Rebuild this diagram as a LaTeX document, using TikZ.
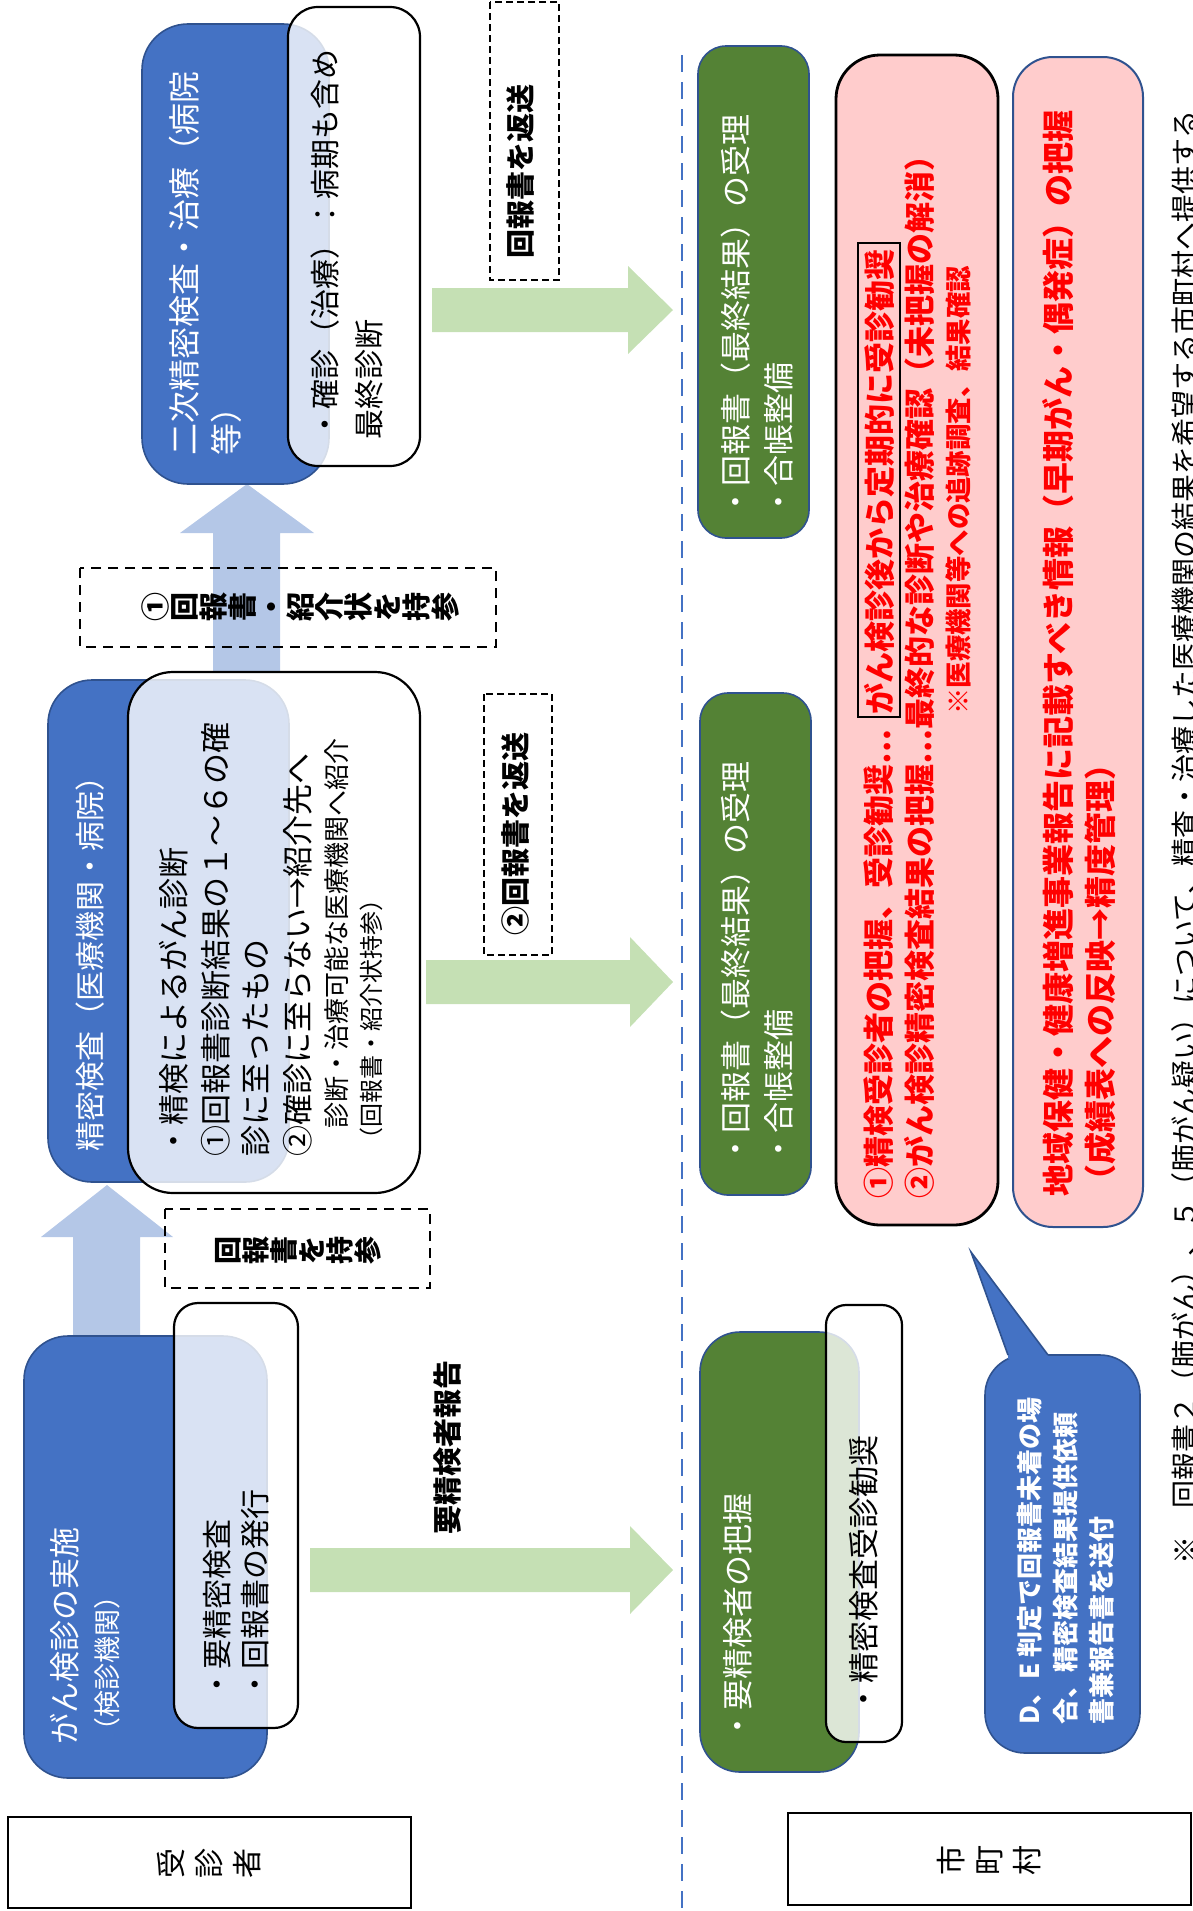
\documentclass[tikz,border=0pt]{standalone}
\usepackage{fontspec}
\setmainfont{Noto Sans CJK JP}
\newcommand\setfs[1]{\fontsize{#1}{#1}\selectfont}
\definecolor{cBlue}{HTML}{4472C4}
\definecolor{cEdge}{HTML}{2F528F}
\definecolor{cGreen}{HTML}{548235}
\definecolor{cPink}{HTML}{FFCCCC}
\definecolor{cGArrow}{HTML}{C5E0B4}
\definecolor{cBArrow}{HTML}{B4C7E7}
\definecolor{cRed}{HTML}{FF0000}
\begin{document}
\begin{tikzpicture}[x=0.5pt,y=-0.5pt,
  bbox/.style={fill=cBlue, draw=cEdge, line width=0.8pt},
  gbox/.style={fill=cGreen, draw=cEdge, line width=0.8pt},
  wbox/.style={fill=white, fill opacity=0.8, draw=black, line width=1.1pt},
  pkbox/.style={fill=cPink},
  dashthick/.style={draw=black, line width=1.2pt, dash pattern=on 5pt off 3.5pt},
  dashthin/.style={draw=black, line width=0.6pt, dash pattern=on 3.5pt off 2pt},
  rt/.style={rotate=90, anchor=west, inner sep=0pt},
  tate/.style={rotate=90, anchor=center, inner sep=0pt, align=center},
  garrow/.style={fill=cGArrow},
  barrow/.style={fill=cBArrow},
  wtxt/.style={text=white},
  rtxt/.style={text=cRed, font=\bfseries\setfs{15.5}},
]
\useasboundingbox (0,0) rectangle (1193,1911);
\clip (0,0) rectangle (1193,1911);

% ---------- arrows (under boxes) ----------
\fill[barrow] (213,672) -- (213,533) -- (180,533) -- (247,484) -- (314,533) -- (280,533) -- (280,672) -- cycle;
\fill[barrow] (73,1336) -- (73,1237) -- (41,1237) -- (107,1185) -- (173,1237) -- (140,1237) -- (140,1336) -- cycle;
\fill[garrow] (432,288) -- (628,288) -- (628,266) -- (673,310) -- (628,354) -- (628,332) -- (432,332) -- cycle;
\fill[garrow] (426,960) -- (630,960) -- (630,937) -- (673,982) -- (630,1027) -- (630,1004) -- (426,1004) -- cycle;
\fill[garrow] (310,1548) -- (630,1548) -- (630,1526) -- (673,1570) -- (630,1614) -- (630,1592) -- (310,1592) -- cycle;

% ---------- left column boxes ----------
\draw[bbox, rounded corners=23pt] (142,24) rectangle (329,484);
\draw[wbox, rounded corners=15pt] (288,7) rectangle (420,466);
\draw[bbox, rounded corners=22pt] (48,680) rectangle (289,1182);
\draw[wbox, rounded corners=22.5pt] (128,672) rectangle (420,1193);
\draw[bbox, rounded corners=22pt] (24,1336) rectangle (267,1778);
\draw[wbox, rounded corners=12pt] (174,1303) rectangle (298,1728);

% dashed label boxes
\draw[dashthick] (80,568) rectangle (496,647);
\draw[dashthick] (165,1209) rectangle (430,1288);
\draw[dashthin] (484,694) rectangle (552,955);
\draw[dashthin] (490,2) rectangle (559,280);

% divider
\draw[cBlue, line width=1pt, dash pattern=on 8.5pt off 5pt] (682,55) -- (682,1911);

% ---------- right column boxes ----------
\draw[gbox, rounded corners=14pt] (698,46) rectangle (809,538);
\draw[gbox, rounded corners=14pt] (700,693) rectangle (811,1195);
\draw[gbox, rounded corners=20pt] (700,1332) rectangle (859,1772);
\draw[wbox, rounded corners=10pt] (826,1305) rectangle (902,1742);
\draw[pkbox, draw=black, line width=1.4pt, rounded corners=22pt] (836,55) rectangle (998,1225);
\draw[pkbox, draw=cEdge, line width=1pt, rounded corners=20pt] (1013,57) rectangle (1143,1227);
\draw[black, line width=1pt] (858,243) rectangle (900,717);

% callout
\draw[bbox, rounded corners=20pt] (985,1355) rectangle (1140,1753);
\fill[cBlue] (1008,1355) -- (971,1252) -- (1048,1355) -- (1048,1359) -- (1008,1359) -- cycle;
\draw[cEdge, line width=0.8pt] (1008,1355) -- (971,1252) -- (1048,1355);

% bottom label boxes
\draw[black, line width=1.4pt] (8,1817) rectangle (411,1908);
\draw[black, line width=1.4pt] (788,1813) rectangle (1191,1905);

% ---------- texts ----------
\node[rt, wtxt, font=\setfs{16}] (t2a) at (184,456) {二次精密検査・治療（病院};
\node[rt, wtxt, font=\setfs{16}] (t2b) at (226,456) {等）};
\node[rt, font=\setfs{15}] (t2c) at (325,440) {・確診（治療）：病期も含め};
\node[rt, font=\setfs{15}] (t2d) at (369,440) {最終診断};

\node[rt, wtxt, font=\setfs{15}] (t1a) at (90,1152) {精密検査（医療機関・病院）};
\node[rt, font=\setfs{15.5}] (t1b) at (174,1157) {・精検によるがん診断};
\node[rt, font=\setfs{15.5}] (t1c) at (216,1157) {①回報書診断結果の１～６の確};
\node[rt, font=\setfs{15.5}] (t1d) at (256,1157) {診に至ったもの};
\node[rt, font=\setfs{15.5}] (t1e) at (298,1157) {②確診に至らない→紹介先へ};
\node[rt, font=\setfs{13}] (t1f) at (337,1129) {診断・治療可能な医療機関へ紹介};
\node[rt, font=\setfs{12}] (t1g) at (371,1152) {（回報書・紹介状持参）};

\node[rt, wtxt, font=\setfs{15.5}] (t0a) at (65,1745) {がん検診の実施};
\node[rt, wtxt, font=\setfs{13.5}] (t0b) at (107,1745) {（検診機関）};
\node[rt, font=\setfs{15}] (t0c) at (217,1700) {・要精密検査};
\node[rt, font=\setfs{15}] (t0d) at (255,1700) {・回報書の発行};

\node[rt, font=\bfseries\setfs{14.5}] (l3) at (448,1535) {要精検者報告};
\node[rt, font=\bfseries\setfs{14.5}] (l2) at (515,936) {②回報書を返送};
\node[rt, font=\bfseries\setfs{14.5}] (l1) at (520,259) {回報書を返送};

\node[tate, font=\bfseries\fontsize{14.5}{14.5}\selectfont] (k1) at (300,607) {①\\回\\報\\書\\・\\紹\\介\\状\\を\\持\\参};
\node[tate, font=\bfseries\fontsize{14}{14}\selectfont] (k2) at (298,1250) {回\\報\\書\\を\\持\\参};
\node[tate, font=\fontsize{15}{19}\selectfont] (k3) at (209,1863) {受\\診\\者};
\node[tate, font=\fontsize{15}{19}\selectfont] (k4) at (989,1860) {市\\町\\村};

\node[rt, wtxt, font=\setfs{15.5}] (g1a) at (736,518) {・回報書（最終結果）の受理};
\node[rt, wtxt, font=\setfs{15.5}] (g1b) at (779,518) {・合帳整備};
\node[rt, wtxt, font=\setfs{15.5}] (g2a) at (736,1165) {・回報書（最終結果）の受理};
\node[rt, wtxt, font=\setfs{15.5}] (g2b) at (779,1165) {・合帳整備};
\node[rt, wtxt, font=\setfs{15.5}] (g3a) at (738,1742) {・要精検者の把握};
\node[rt, font=\setfs{15.5}] (g3b) at (864,1715) {・精密検査受診勧奨};

\node[rt, rtxt] (r1) at (879,1199) {①精検受診者の把握、受診勧奨…};
\node[rt, rtxt] (r1b) at (879,715) {がん検診後から定期的に受診勧奨};
\node[rt, rtxt] (r2) at (920,1199) {②がん検診精密検査結果の把握…最終的な診断や治療確認（未把握の解消）};
\node[rt, text=cRed, font=\bfseries\setfs{13.2}] (r3) at (958,715) {※医療機関等への追跡調査、結果確認};

\node[rt, rtxt, font=\bfseries\setfs{16}] (p1) at (1058,1197) {地域保健・健康増進事業報告に記載すべき情報（早期がん・偶発症）の把握};
\node[rt, rtxt, font=\bfseries\setfs{16}] (p2) at (1100,1197) {（成績表への反映→精度管理）};

\node[rt, wtxt, font=\bfseries\setfs{13}] (c1) at (1030,1725) {D、E 判定で回報書未着の場};
\node[rt, wtxt, font=\bfseries\setfs{13}] (c2) at (1066,1725) {合、精密検査結果提供依頼};
\node[rt, wtxt, font=\bfseries\setfs{13}] (c3) at (1102,1725) {書兼報告書を送付};

\node[rt, font=\setfs{14}] (note) at (1185,1565) {※　回報書２（肺がん）、５（肺がん疑い）について、精査・治療した医療機関の結果を希望する市町村へ提供する};
\end{tikzpicture}
\end{document}
